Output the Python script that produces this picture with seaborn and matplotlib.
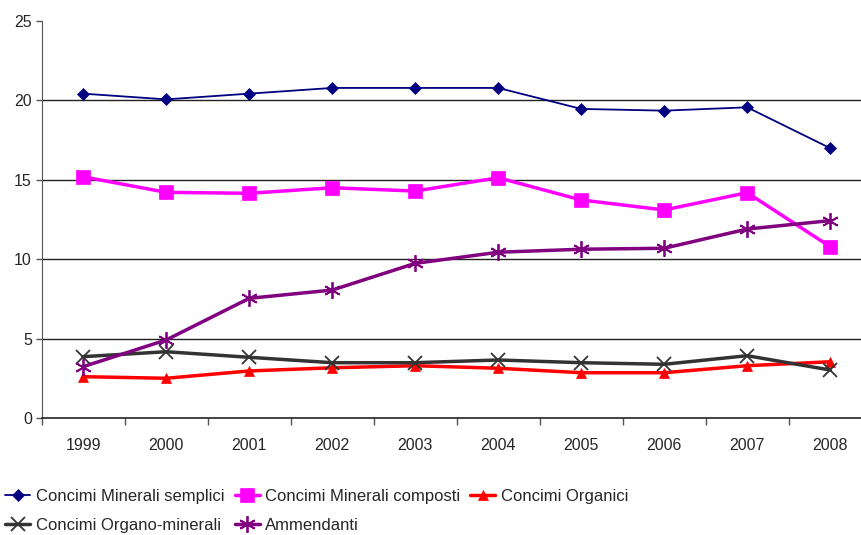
import numpy as np
import pandas as pd
import matplotlib
matplotlib.use("Agg")
import matplotlib.pyplot as plt
import seaborn as sns

years = ["1999", "2000", "2001", "2002", "2003", "2004", "2005", "2006", "2007", "2008"]
minerali_semplici = [20.43, 20.07, 20.43, 20.79, 20.79, 20.79, 19.47, 19.36, 19.57, 17.0]
minerali_composti = [15.2, 14.22, 14.16, 14.51, 14.3, 15.14, 13.74, 13.11, 14.2, 10.8]
organici = [2.62, 2.52, 2.98, 3.18, 3.31, 3.15, 2.87, 2.87, 3.31, 3.56]
organo_minerali = [3.88, 4.19, 3.84, 3.5, 3.5, 3.67, 3.5, 3.4, 3.94, 3.04]
ammendanti = [3.25, 4.93, 7.55, 8.07, 9.75, 10.45, 10.64, 10.7, 11.91, 12.44]

asterisk = (6, 2, 0)
series = [
    ("Concimi Minerali semplici", minerali_semplici, "#000080", "D", 6, 1.3),
    ("Concimi Minerali composti", minerali_composti, "#FF00FF", "s", 10, 2.5),
    ("Concimi Organici", organici, "#FF0000", "^", 7, 2.5),
    ("Concimi Organo-minerali", organo_minerali, "#333333", "x", 10, 2.5),
    ("Ammendanti", ammendanti, "#800080", asterisk, 12, 2.5),
]

sns.set_style("white")
plt.rcParams["font.family"] = ["Liberation Sans", "DejaVu Sans"]

fig = plt.figure(figsize=(8.61, 5.35), dpi=100)
ax = fig.add_axes([0.0484, 0.2181, 0.964, 0.7426])

x = np.arange(len(years))
for name, vals, color, marker, ms, lw in series:
    df = pd.DataFrame({"x": x, "y": vals})
    sns.lineplot(data=df, x="x", y="y", ax=ax, color=color, marker=marker,
                 markersize=ms, linewidth=lw, markeredgecolor=color,
                 markeredgewidth=1.3 if marker in ("x", asterisk) else 0.5,
                 label=name, clip_on=False)

ax.set_xlim(-0.5, 9.5)
ax.set_ylim(0, 25)
ax.set_yticks([0, 5, 10, 15, 20, 25])
for yv in [5, 10, 15, 20]:
    ax.axhline(yv, color="#222222", linewidth=1.0, zorder=0)

# category axis: ticks on boundaries, labels in the middle
ax.set_xticks(np.arange(-0.5, 10, 1))
ax.set_xticklabels([])
ax.set_xticks(x, minor=True)
ax.set_xticklabels(years, minor=True, fontsize=11.5)
ax.tick_params(axis="x", which="major", direction="out", length=5, width=1, color="#555555", bottom=True)
ax.tick_params(axis="x", which="minor", length=0, pad=14)
ax.tick_params(axis="y", direction="out", length=4, width=1, color="#555555", left=True, labelsize=11.5, pad=3)

ax.set_xlabel("")
ax.set_ylabel("")
for side in ["top", "right"]:
    ax.spines[side].set_visible(False)
ax.spines["left"].set_color("#555555")
ax.spines["bottom"].set_color("#222222")
ax.spines["bottom"].set_linewidth(1.2)

# legend filled row by row like the original
handles, labels = ax.get_legend_handles_labels()
order = [0, 3, 1, 4, 2]
ax.legend([handles[i] for i in order], [labels[i] for i in order],
          loc="upper left", bbox_to_anchor=(-0.052, -0.16), ncol=3, frameon=False,
          prop={"size": 12}, handlelength=1.5,
          handletextpad=0.35, columnspacing=0.6, labelspacing=0.85, borderaxespad=0)

fig.savefig("out.png", dpi=100)
